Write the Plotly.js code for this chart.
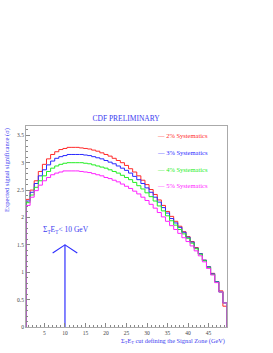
<!DOCTYPE html>
<html><head><meta charset="utf-8">
<script src="https://cdn.plot.ly/plotly-3.0.1.min.js"></script>
<style>html,body{margin:0;padding:0;background:#fff}</style>
</head><body><div id="chart" style="width:273px;height:353px"></div>
<script>
// Bin centres (GeV), unit-width bins
const binCenters = [1,2,3,4,5,6,7,8,9,10,11,12,13,14,15,16,17,18,19,20,21,22,23,24,25,26,27,28,29,30,31,32,33,34,35,36,37,38,39,40,41,42,43,44,45,46,47,48,49];
const seriesNames = ["2% Systematics","3% Systematics","4% Systematics","5% Systematics"];
const sig2 = [2.33,2.50,2.67,2.84,2.97,3.07,3.15,3.20,3.24,3.26,3.28,3.28,3.28,3.27,3.26,3.25,3.23,3.21,3.18,3.15,3.12,3.08,3.04,3.00,2.95,2.89,2.83,2.76,2.68,2.60,2.51,2.42,2.32,2.22,2.11,2.02,1.93,1.84,1.74,1.65,1.56,1.45,1.34,1.22,1.10,0.98,0.83,0.66,0.38];
const sig3 = [2.30,2.46,2.62,2.76,2.87,2.96,3.03,3.08,3.11,3.13,3.15,3.15,3.15,3.15,3.14,3.13,3.11,3.09,3.07,3.04,3.01,2.98,2.94,2.90,2.86,2.81,2.75,2.69,2.62,2.54,2.46,2.37,2.28,2.18,2.08,1.98,1.90,1.82,1.73,1.64,1.55,1.44,1.34,1.22,1.10,0.97,0.83,0.64,0.44];
const sig4 = [2.27,2.41,2.55,2.67,2.76,2.84,2.90,2.94,2.97,2.99,3.00,3.00,3.00,3.00,2.99,2.98,2.96,2.94,2.92,2.90,2.87,2.84,2.81,2.77,2.73,2.69,2.64,2.58,2.52,2.45,2.38,2.30,2.21,2.12,2.03,1.94,1.86,1.78,1.70,1.62,1.53,1.43,1.33,1.21,1.09,0.96,0.82,0.64,0.44];
const sig5 = [2.22,2.37,2.49,2.59,2.67,2.73,2.78,2.81,2.83,2.85,2.85,2.85,2.85,2.84,2.83,2.82,2.80,2.78,2.76,2.73,2.71,2.68,2.65,2.61,2.57,2.53,2.48,2.43,2.37,2.31,2.24,2.17,2.09,2.01,1.93,1.85,1.78,1.71,1.63,1.56,1.48,1.39,1.30,1.19,1.07,0.95,0.81,0.64,0.44];
const colors = ["#ff2a2a","#2a2aff","#22ee22","#ff22ff"];
// Σ E_T < 10 GeV marker
const cutValue = 10;
const cutArrowTop = 1.5;
const xTickVals = [5,10,15,20,25,30,35,40,45];

function histOutline(vals){
  const xs=[binCenters[0]-0.5], ys=[0];
  for(let i=0;i<vals.length;i++){ xs.push(binCenters[i]-0.5); ys.push(vals[i]); }
  const last=binCenters[binCenters.length-1]+0.5;
  xs.push(last); ys.push(vals[vals.length-1]);
  xs.push(last); ys.push(0);
  return {x:xs,y:ys};
}
const allSeries=[sig2,sig3,sig4,sig5];
const traces=allSeries.map((v,i)=>{const h=histOutline(v);return {x:h.x,y:h.y,type:'scatter',mode:'lines',line:{shape:'hv',color:colors[i],width:1},name:seriesNames[i],showlegend:false,hoverinfo:'skip'};});
// arrow
traces.push({x:[cutValue,cutValue],y:[0,cutArrowTop],mode:'lines',line:{color:'#3030ff',width:1.2},showlegend:false,hoverinfo:'skip'});
traces.push({x:[cutValue-3,cutValue,cutValue+3],y:[cutArrowTop-0.15,cutArrowTop,cutArrowTop-0.15],mode:'lines',line:{color:'#3030ff',width:1.2},showlegend:false,hoverinfo:'skip'});

const serif='"Liberation Serif", "DejaVu Serif", serif';
const blue='#3b3bf0';
const annotations=[];
const legY=[0.955,0.869,0.786,0.706];
seriesNames.forEach((n,i)=>{annotations.push({xref:'paper',yref:'paper',x:0.642,y:legY[i],xanchor:'left',yanchor:'middle',text:'— '+n,showarrow:false,font:{family:serif,size:6.5,color:colors[i]}});});
annotations.push({xref:'x',yref:'y',x:cutValue+0.3,y:1.77,xanchor:'center',yanchor:'middle',text:'Σ<sub>T</sub>E<sub>T</sub>< 10 GeV',showarrow:false,font:{family:serif,size:7.5,color:blue}});
annotations.push({xref:'paper',yref:'paper',x:1,y:-0.068,xanchor:'right',yanchor:'middle',text:'Σ<sub>T</sub>E<sub>T</sub> cut defining the Signal Zone (GeV)',showarrow:false,font:{family:serif,size:6.3,color:blue}});
annotations.push({xref:'paper',yref:'paper',x:-0.095,y:1,xanchor:'center',yanchor:'top',textangle:-90,text:'Expected signal significance (σ)',showarrow:false,font:{family:serif,size:6.5,color:blue}});

const layout={
  width:273,height:353,
  margin:{l:26,r:46,t:126,b:26},
  paper_bgcolor:'#fff',plot_bgcolor:'#fff',
  showlegend:false,
  title:{text:'CDF PRELIMINARY',font:{family:serif,size:7.5,color:blue},x:0.462,xanchor:'center',y:1-118/353,yanchor:'middle',xref:'container',yref:'container'},
  xaxis:{range:[0.5,49.5],showgrid:false,zeroline:false,showline:true,mirror:true,linecolor:'#aaaaaa',linewidth:1,
    tickmode:'array',tickvals:xTickVals,ticks:'inside',ticklen:4,tickcolor:'#888',tickfont:{family:serif,size:5.5,color:'#444'},
    minor:{dtick:1,tick0:0,ticks:'inside',ticklen:2,tickcolor:'#888',showgrid:false}},
  yaxis:{range:[0,3.67],showgrid:false,zeroline:false,showline:true,mirror:true,linecolor:'#aaaaaa',linewidth:1,
    dtick:0.5,tick0:0,ticks:'inside',ticklen:4,tickcolor:'#888',tickfont:{family:serif,size:5.5,color:'#444'},
    minor:{dtick:0.1,tick0:0,ticks:'inside',ticklen:2,tickcolor:'#888',showgrid:false}},
  annotations:annotations
};
Plotly.newPlot('chart',traces,layout,{staticPlot:true,displayModeBar:false});
</script></body></html>
